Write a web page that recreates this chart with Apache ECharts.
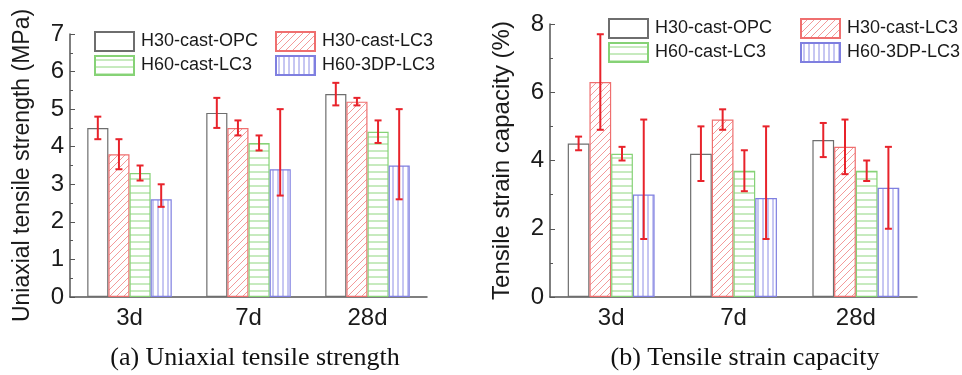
<!DOCTYPE html>
<html><head><meta charset="utf-8">
<script src="https://cdn.jsdelivr.net/npm/echarts@6/dist/echarts.min.js"></script>
<style>html,body{margin:0;padding:0;background:#fff}#c{width:962px;height:375px}</style>
</head><body><div id="c"></div>
<script>
const categories = ['3d', '7d', '28d'];
const seriesNames = ['H30-cast-OPC', 'H30-cast-LC3', 'H60-cast-LC3', 'H60-3DP-LC3'];
// (a) Uniaxial tensile strength (MPa)
const strengthMean = [[4.5, 4.9, 5.4], [3.8, 4.5, 5.2], [3.3, 4.1, 4.4], [2.6, 3.4, 3.5]];
const strengthLow  = [[4.2, 4.5, 5.1], [3.4, 4.3, 5.1], [3.1, 3.9, 4.1], [2.4, 2.7, 2.6]];
const strengthHigh = [[4.8, 5.3, 5.7], [4.2, 4.7, 5.3], [3.5, 4.3, 4.7], [3.0, 5.0, 5.0]];
// (b) Tensile strain capacity (%)
const strainMean = [[4.5, 4.2, 4.6], [6.3, 5.2, 4.4], [4.2, 3.7, 3.7], [3.0, 2.9, 3.2]];
const strainLow  = [[4.3, 3.4, 4.1], [4.9, 4.9, 3.6], [4.0, 3.1, 3.4], [1.7, 1.7, 2.0]];
const strainHigh = [[4.7, 5.0, 5.1], [7.7, 5.5, 5.2], [4.4, 4.3, 4.0], [5.2, 5.0, 4.4]];
const yTicksA = [0, 1, 2, 3, 4, 5, 6, 7];
const yTicksB = [0, 2, 4, 6, 8];

function pattern(kind, color, step) {
  const c = document.createElement('canvas');
  c.width = step; c.height = step;
  const g = c.getContext('2d');
  g.fillStyle = '#fff'; g.fillRect(0, 0, step, step);
  g.strokeStyle = color; g.lineWidth = 1;
  g.beginPath();
  if (kind === 'diag') {
    g.moveTo(-1, step + 1); g.lineTo(step + 1, -1);
    g.moveTo(-1, 1); g.lineTo(1, -1);
    g.moveTo(step - 1, step + 1); g.lineTo(step + 1, step - 1);
  } else if (kind === 'h') {
    g.moveTo(0, step / 2 + 0.5); g.lineTo(step, step / 2 + 0.5);
  } else if (kind === 'v') {
    g.moveTo(step / 2 + 0.5, 0); g.lineTo(step / 2 + 0.5, step);
  }
  g.stroke();
  return { image: c, repeat: 'repeat' };
}
const styles = [
  { color: '#ffffff', borderColor: '#6e6e6e' },
  { color: pattern('diag', '#f39a9a', 7), borderColor: '#ef6f6f' },
  { color: pattern('h', '#8fd67f', 7), borderColor: '#86d276' },
  { color: pattern('v', '#8e8ee6', 5), borderColor: '#7f7fe0' }
];
const GAP = 0.29;
const font = 'Liberation Sans, Arial, sans-serif';

function buildPanel(gi, means, lows, highs) {
  const out = [];
  for (let k = 0; k < 4; k++) {
    out.push({
      type: 'bar', name: seriesNames[k], xAxisIndex: gi, yAxisIndex: gi,
      data: means[k], barGap: '0%', barCategoryGap: (GAP * 100) + '%',
      itemStyle: { color: styles[k].color, borderColor: styles[k].borderColor, borderWidth: 1.2 },
      emphasis: { disabled: true }, z: 2
    });
  }
  for (let k = 0; k < 4; k++) {
    const errData = categories.map((c, i) => [i, lows[k][i], highs[k][i]]);
    out.push({
      type: 'custom', xAxisIndex: gi, yAxisIndex: gi, z: 5, silent: true,
      data: errData,
      renderItem: (params, api) => {
        const idx = api.value(0);
        const band = api.size([1, 0])[0];
        const bw = band * (1 - GAP) / 4;
        const p1 = api.coord([idx, api.value(1)]);
        const p2 = api.coord([idx, api.value(2)]);
        const x = p1[0] + (k - 1.5) * bw;
        const st = { stroke: '#e8232b', lineWidth: 2 };
        return { type: 'group', children: [
          { type: 'line', shape: { x1: x, y1: p1[1], x2: x, y2: p2[1] }, style: st },
          { type: 'line', shape: { x1: x - 3.5, y1: p1[1], x2: x + 3.5, y2: p1[1] }, style: st },
          { type: 'line', shape: { x1: x - 3.5, y1: p2[1], x2: x + 3.5, y2: p2[1] }, style: st }
        ]};
      }
    });
  }
  return out;
}

function yAxis(gi, ticks, name, nameSize) {
  return {
    type: 'value', gridIndex: gi, min: ticks[0], max: ticks[ticks.length - 1],
    interval: ticks[1] - ticks[0],
    name: name, nameLocation: 'middle', nameRotate: 90, nameGap: 36,
    nameTextStyle: { fontFamily: font, fontSize: nameSize, color: '#1a1a1a' },
    axisLine: { show: true, lineStyle: { color: '#555', width: 1.5 } },
    axisTick: { show: true, inside: true, length: 5, lineStyle: { color: '#555' } },
    minorTick: { show: true, splitNumber: 2, length: 3, lineStyle: { color: '#555' } },
    splitLine: { show: false },
    axisLabel: { fontFamily: font, fontSize: 24, color: '#1a1a1a', margin: 6 }
  };
}
function xAxis(gi) {
  return {
    type: 'category', gridIndex: gi, data: categories,
    axisLine: { lineStyle: { color: '#555', width: 1.5 } },
    axisTick: { show: false },
    axisLabel: { fontFamily: font, fontSize: 24, color: '#1a1a1a', margin: 9 }
  };
}
function legendCol(names, left, top) {
  return {
    orient: 'vertical', left: left, top: top, itemWidth: 39, itemHeight: 19, itemGap: 3,
    icon: 'rect',
    data: names, selectedMode: false,
    textStyle: { fontFamily: font, fontSize: 18, color: '#1a1a1a', padding: [0, 0, 0, 2] },
    padding: 0
  };
}

const chart = echarts.init(document.getElementById('c'), null, { renderer: 'canvas' });
chart.setOption({
  animation: false,
  backgroundColor: '#fff',
  grid: [
    { left: 70, right: 535, top: 34, bottom: 78 },
    { left: 550, right: 45, top: 24, bottom: 78 }
  ],
  xAxis: [xAxis(0), xAxis(1)],
  yAxis: [yAxis(0, yTicksA, 'Uniaxial tensile strength (MPa)', 23), yAxis(1, yTicksB, 'Tensile strain capacity (%)', 24)],
  legend: [
    legendCol([seriesNames[0], seriesNames[2]], 94, 31),
    legendCol([seriesNames[1], seriesNames[3]], 275, 31),
    legendCol([seriesNames[0], seriesNames[2]], 608, 18),
    legendCol([seriesNames[1], seriesNames[3]], 800, 18)
  ],
  title: [
    { text: '(a) Uniaxial tensile strength', left: 250, top: 340, textAlign: 'center',
      textStyle: { fontFamily: 'Liberation Serif, Times New Roman, serif', fontSize: 26, fontWeight: 'normal', color: '#111' } },
    { text: '(b) Tensile strain capacity', left: 740, top: 340, textAlign: 'center',
      textStyle: { fontFamily: 'Liberation Serif, Times New Roman, serif', fontSize: 26, fontWeight: 'normal', color: '#111' } }
  ],
  series: [].concat(
    buildPanel(0, strengthMean, strengthLow, strengthHigh),
    buildPanel(1, strainMean, strainLow, strainHigh)
  )
});
</script></body></html>
